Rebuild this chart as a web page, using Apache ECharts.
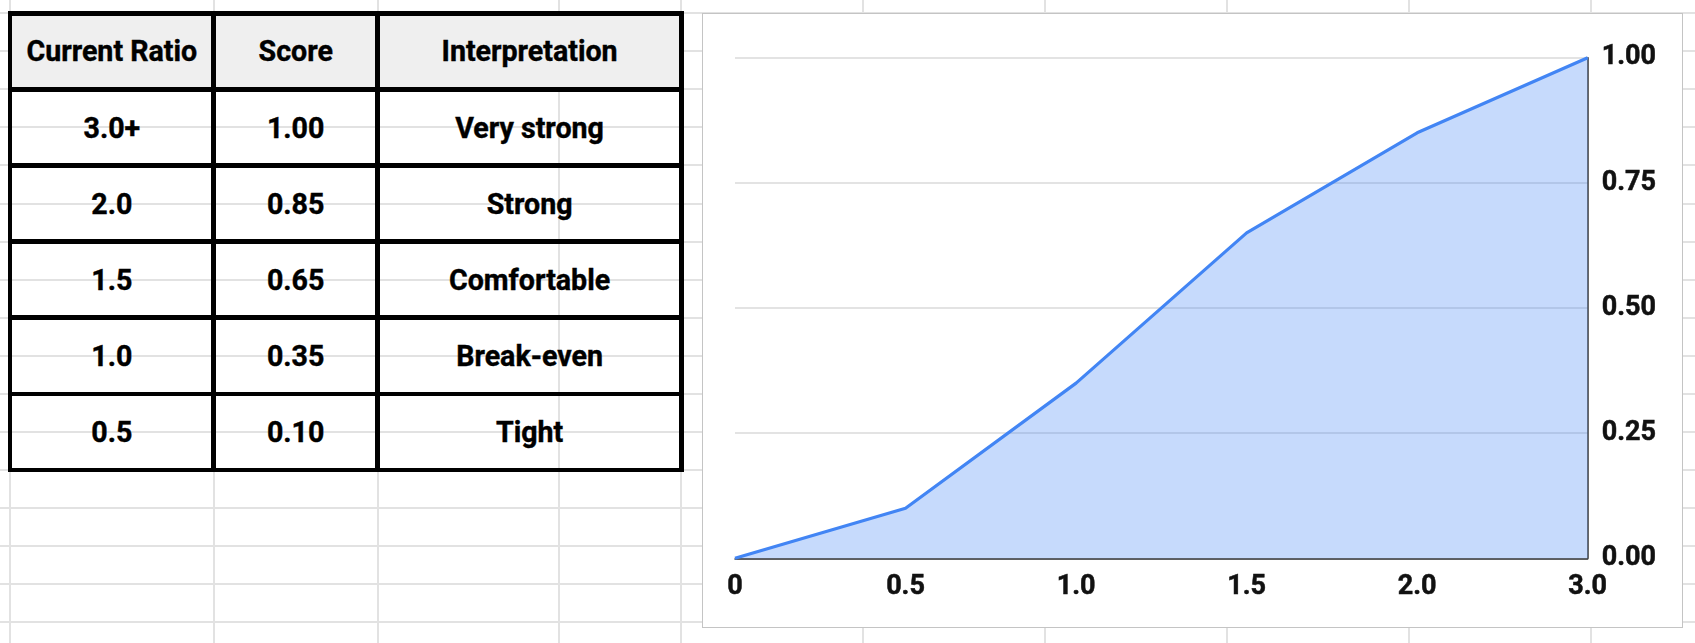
<!DOCTYPE html>
<html>
<head>
<meta charset="utf-8">
<script src="https://cdn.jsdelivr.net/npm/echarts@6/dist/echarts.min.js"></script>
<style>
  html, body { margin: 0; padding: 0; width: 1695px; height: 643px; overflow: hidden; background: #ffffff; font-family: 'Roboto', sans-serif; }
  #sheet { position: absolute; left: 0; top: 0; width: 1695px; height: 643px; z-index: 0; }
  .gl { position: absolute; background: #e2e2e2; }
  #table { position: absolute; left: 0; top: 0; z-index: 1; }
  .cell { position: absolute; display: flex; align-items: center; justify-content: center; font-weight: bold; font-size: 28.6px; color: #000; white-space: nowrap; -webkit-text-stroke: 0.4px #000; }
  .tl { position: absolute; background: #000; }
  #box { position: absolute; left: 702px; top: 13px; width: 981px; height: 615px; box-sizing: border-box; border: 1px solid #c4c4c4; background: #fff; z-index: 1; }
  #chart { position: absolute; left: 0; top: 0; width: 1695px; height: 643px; z-index: 2; }
</style>
</head>
<body>
<div id="sheet"></div>
<div id="table"></div>
<div id="box"></div>
<div id="chart"></div>
<script>
// ---- Data ----
var tableHeaders = ['Current Ratio', 'Score', 'Interpretation'];
var ratioLabels = ['3.0+', '2.0', '1.5', '1.0', '0.5'];
var scoreLabels = ['1.00', '0.85', '0.65', '0.35', '0.10'];
var interpretations = ['Very strong', 'Strong', 'Comfortable', 'Break-even', 'Tight'];

var xCategories = ['0', '0.5', '1.0', '1.5', '2.0', '3.0'];
var scoreValues = [0, 0.10, 0.35, 0.65, 0.85, 1.00];

// ---- Spreadsheet background grid ----
var sheet = document.getElementById('sheet');
var sheetCols = [10, 213.7, 377.7, 559, 681, 863, 1045, 1227, 1409, 1591];
sheetCols.forEach(function (x) {
  var d = document.createElement('div');
  d.className = 'gl';
  d.style.left = (x - 1) + 'px'; d.style.top = '0px'; d.style.width = '2px'; d.style.height = '643px';
  sheet.appendChild(d);
});
for (var k = -1; k <= 17; k++) {
  var y = 13.3 + 38.04 * k;
  var d = document.createElement('div');
  d.className = 'gl';
  d.style.left = '0px'; d.style.top = (y - 1) + 'px'; d.style.width = '1695px'; d.style.height = '2px';
  sheet.appendChild(d);
}

// ---- Table ----
var tbl = document.getElementById('table');
var colX = [10, 213.7, 377.7, 681.5];
var rowY = [13.3, 89.6, 165.5, 241.7, 317.7, 394, 470];
var rows = [tableHeaders];
for (var i = 0; i < ratioLabels.length; i++) rows.push([ratioLabels[i], scoreLabels[i], interpretations[i]]);
rows.forEach(function (r, i) {
  r.forEach(function (txt, j) {
    var c = document.createElement('div');
    c.className = 'cell';
    c.style.left = colX[j] + 'px';
    c.style.top = rowY[i] + 'px';
    c.style.width = (colX[j + 1] - colX[j]) + 'px';
    c.style.height = (rowY[i + 1] - rowY[i]) + 'px';
    if (i === 0) c.style.background = '#efefef';
    c.textContent = txt;
    tbl.appendChild(c);
  });
});
var lw = 4.6;
rowY.forEach(function (y) {
  var l = document.createElement('div');
  l.className = 'tl';
  l.style.left = (colX[0] - lw / 2) + 'px';
  l.style.top = (y - lw / 2) + 'px';
  l.style.width = (colX[colX.length - 1] - colX[0] + lw) + 'px';
  l.style.height = lw + 'px';
  tbl.appendChild(l);
});
colX.forEach(function (x) {
  var l = document.createElement('div');
  l.className = 'tl';
  l.style.left = (x - lw / 2) + 'px';
  l.style.top = (rowY[0] - lw / 2) + 'px';
  l.style.width = lw + 'px';
  l.style.height = (rowY[rowY.length - 1] - rowY[0] + lw) + 'px';
  tbl.appendChild(l);
});

// ---- Chart ----
var chart = echarts.init(document.getElementById('chart'), null, { renderer: 'canvas' });
var labelStyle = {
  color: '#111111', fontSize: 27, fontWeight: 'bold', fontFamily: 'Roboto',
  textBorderColor: '#111111', textBorderWidth: 0.5
};
chart.setOption({
  backgroundColor: 'transparent',
  animation: false,
  textStyle: { fontFamily: 'Roboto', fontWeight: 'bold' },
  grid: { left: 735, right: 107.3, top: 57.7, bottom: 84.7, containLabel: false },
  xAxis: {
    type: 'category',
    data: xCategories,
    boundaryGap: false,
    axisLine: { show: true, lineStyle: { color: '#333333', width: 1.5 } },
    axisTick: { show: false },
    splitLine: { show: false },
    axisLabel: Object.assign({}, labelStyle, { margin: 15, interval: 0 })
  },
  yAxis: {
    type: 'value',
    position: 'right',
    min: 0, max: 1, interval: 0.25,
    axisLine: { show: true, lineStyle: { color: '#333333', width: 1.5 } },
    axisTick: { show: false },
    splitLine: { show: true, lineStyle: { color: '#dadada', width: 1.5 } },
    axisLabel: Object.assign({}, labelStyle, {
      margin: 14,
      padding: [8, 0, 0, 0],
      formatter: function (v) { return v.toFixed(2); }
    })
  },
  series: [{
    type: 'line',
    data: scoreValues,
    symbol: 'none',
    lineStyle: { color: '#4285f4', width: 3.2 },
    itemStyle: { color: '#4285f4' },
    areaStyle: { color: '#4285f4', opacity: 0.3 }
  }]
});
</script>
</body>
</html>
